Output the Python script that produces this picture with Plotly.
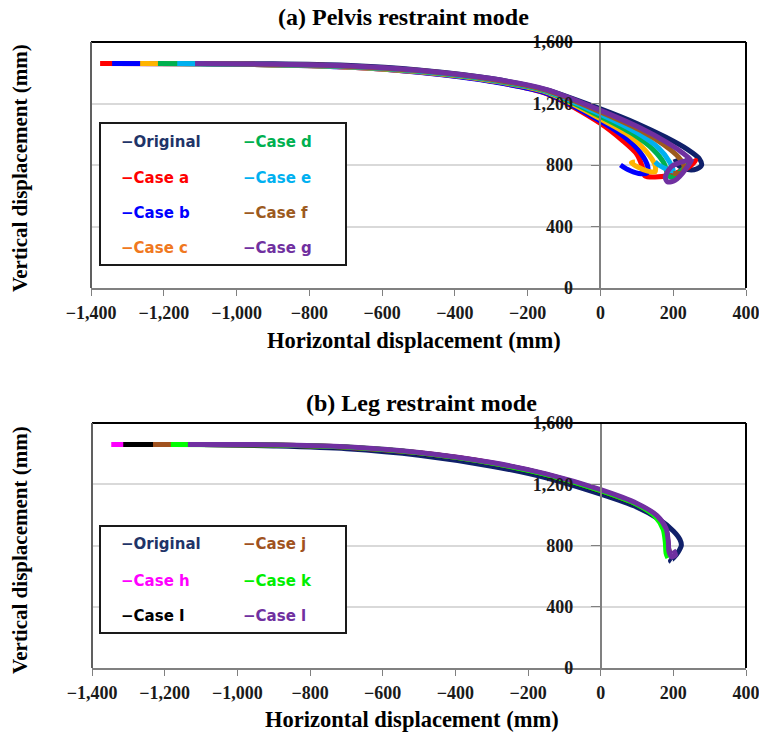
import plotly.graph_objects as go

W, H = 759, 744

# ---------------- data: (a) Pelvis restraint mode ----------------
names_a = ["Original", "Case a", "Case b", "Case c", "Case d", "Case e", "Case f", "Case g"]

orig_a_x = [-1100, -900, -700, -500, -300, -150, 0, 100, 180, 240, 272, 278, 265, 240, 215, 205]
orig_a_y = [1460, 1458, 1448, 1418, 1362, 1290, 1165, 1070, 980, 900, 840, 800, 775, 770, 795, 840]

case_a_x = [-1375, -1100, -900, -700, -500, -300, -150, 0, 60, 100, 115, 122, 150, 200, 240, 262, 250, 225]
case_a_y = [1460, 1458, 1452, 1438, 1405, 1345, 1265, 1070, 960, 870, 790, 730, 722, 740, 790, 830, 800, 760]

case_b_x = [-1342, -1100, -900, -700, -500, -300, -150, 0, 70, 110, 130, 128, 105, 75, 55]
case_b_y = [1460, 1458, 1451, 1437, 1403, 1343, 1268, 1085, 975, 880, 790, 748, 745, 770, 800]

case_c_x = [-1265, -1100, -900, -700, -500, -300, -150, 0, 80, 125, 150, 150, 130, 100, 85, 95]
case_c_y = [1460, 1458, 1451, 1438, 1406, 1348, 1275, 1100, 990, 890, 800, 755, 760, 790, 815, 820]

case_d_x = [-1216, -1100, -900, -700, -500, -300, -150, 0, 90, 145, 175, 185, 195, 220, 245, 235]
case_d_y = [1460, 1458, 1452, 1440, 1409, 1352, 1280, 1115, 1000, 900, 810, 740, 720, 760, 820, 850]

case_e_x = [-1163, -1100, -900, -700, -500, -300, -150, 0, 100, 160, 190, 200, 185, 160, 150]
case_e_y = [1460, 1458, 1453, 1441, 1411, 1355, 1283, 1130, 1010, 910, 820, 760, 770, 800, 820]

case_f_x = [-1090, -900, -700, -500, -300, -150, 0, 110, 175, 215, 230, 225, 200]
case_f_y = [1460, 1454, 1443, 1414, 1358, 1287, 1145, 1025, 930, 850, 790, 750, 745]

case_g_x = [-1114, -900, -700, -500, -300, -150, 0, 110, 180, 225, 248, 235, 205, 185, 178, 195, 240, 255]
case_g_y = [1460, 1456, 1446, 1417, 1362, 1292, 1155, 1040, 950, 880, 830, 775, 700, 690, 720, 790, 830, 820]

series_a = [(orig_a_x, orig_a_y), (case_a_x, case_a_y), (case_b_x, case_b_y), (case_c_x, case_c_y),
            (case_d_x, case_d_y), (case_e_x, case_e_y), (case_f_x, case_f_y), (case_g_x, case_g_y)]

# ---------------- data: (b) Leg restraint mode ----------------
names_b = ["Original", "Case h", "Case I", "Case j", "Case k", "Case l"]

orig_b_x = [-1100, -900, -700, -500, -300, -150, 0, 100, 160, 200, 218, 222, 214, 202, 192, 194]
orig_b_y = [1460, 1450, 1432, 1390, 1318, 1242, 1135, 1050, 972, 895, 840, 800, 760, 722, 700, 695]

case_h_x = [-1347, -1100, -900, -700, -500, -300, -150, 0, 100, 155, 180, 185, 190]
case_h_y = [1460, 1460, 1456, 1442, 1406, 1340, 1265, 1160, 1070, 990, 900, 800, 740]

case_i_x = [-1314, -1100, -900, -700, -500, -300, -150, 0, 100, 155, 180, 186, 190]
case_i_y = [1460, 1460, 1455, 1441, 1404, 1338, 1262, 1157, 1068, 988, 898, 800, 735]

case_j_x = [-1232, -1100, -900, -700, -500, -300, -150, 0, 100, 154, 178, 184, 188]
case_j_y = [1460, 1460, 1456, 1442, 1405, 1339, 1264, 1158, 1069, 989, 899, 800, 738]

case_k_x = [-1183, -900, -700, -500, -300, -150, 0, 100, 150, 172, 178, 180, 185]
case_k_y = [1460, 1457, 1443, 1405, 1338, 1263, 1158, 1068, 990, 905, 820, 750, 718]

case_l_x = [-1136, -900, -700, -500, -300, -150, 0, 100, 155, 180, 186, 188, 196, 206, 200]
case_l_y = [1460, 1458, 1445, 1408, 1342, 1268, 1165, 1075, 995, 910, 830, 760, 725, 740, 770]

series_b = [(orig_b_x, orig_b_y), (case_h_x, case_h_y), (case_i_x, case_i_y), (case_j_x, case_j_y),
            (case_k_x, case_k_y), (case_l_x, case_l_y)]

x_ticks = [-1400, -1200, -1000, -800, -600, -400, -200, 0, 200, 400]
y_ticks = [0, 400, 800, 1200, 1600]

# ---------------- styles ----------------
line_col_a = ["#10206A", "#FF0000", "#0000FF", "#FFB400", "#00B050", "#00B0F0", "#9C5A1E", "#7030A0"]
text_col_a = ["#1F3468", "#FF0000", "#0000FF", "#F07820", "#00B050", "#00B0F0", "#9C5A1E", "#7030A0"]
line_col_b = ["#10206A", "#FF00FF", "#000000", "#A0521E", "#00FF00", "#7030A0"]
text_col_b = ["#1F3468", "#FF00FF", "#000000", "#A0521E", "#00EE00", "#7030A0"]

SERIF = "Liberation Serif"
SANS = "DejaVu Sans"


def px(x):
    return x / W


def py(y):
    return 1 - y / H


# plot box pixel geometry (page pixels)
boxes = {
    "a": dict(l=91, r=746, t=42, b=288),
    "b": dict(l=92, r=746, t=423, b=668),
}

fig = go.Figure()

for i, (xs, ys) in enumerate(series_a):
    fig.add_trace(go.Scatter(x=xs, y=ys, mode="lines", name=names_a[i], xaxis="x", yaxis="y",
                             line=dict(color=line_col_a[i], width=5, shape="spline", smoothing=0.8),
                             showlegend=False))
for i, (xs, ys) in enumerate(series_b):
    fig.add_trace(go.Scatter(x=xs, y=ys, mode="lines", name=names_b[i], xaxis="x2", yaxis="y2",
                             line=dict(color=line_col_b[i], width=5, shape="spline", smoothing=0.8),
                             showlegend=False))

xr = [-1400, 400]
tickfont = dict(family=SERIF, size=18, color="#1a1a1a", weight="bold")


def xaxis_cfg(box, anchor):
    return dict(domain=[px(box["l"]), px(box["r"])], range=xr, anchor=anchor, automargin=False,
                tickvals=x_ticks, tickformat=",d", ticks="outside", ticklen=6, tickcolor="#808080",
                showline=True, linecolor="#808080", linewidth=1.5, showgrid=False, zeroline=False,
                tickfont=tickfont, ticklabelstandoff=2, ticklabeloverflow="allow")


def yaxis_cfg(box):
    x0 = box["l"] + (0 - xr[0]) / (xr[1] - xr[0]) * (box["r"] - box["l"])
    return dict(domain=[py(box["b"]), py(box["t"])], range=[0, 1600], anchor="free", position=px(x0),
                automargin=False,
                tickvals=y_ticks, tickformat=",d", ticks="outside", ticklen=9, tickcolor="#808080",
                showline=True, linecolor="#808080", linewidth=1.5, showgrid=True,
                gridcolor="#d9d9d9", gridwidth=2, zeroline=False, tickfont=tickfont,
                ticklabelstandoff=14, ticklabeloverflow="allow")


shapes = []
annotations = []


def frame(xd, yd):
    shapes.append(dict(type="line", xref=xd, yref=yd, x0=0, x1=1, y0=1, y1=1,
                       line=dict(color="#000000", width=2)))
    shapes.append(dict(type="line", xref=xd, yref=yd, x0=1, x1=1, y0=0, y1=1,
                       line=dict(color="#000000", width=2)))
    shapes.append(dict(type="line", xref=xd, yref=yd, x0=0, x1=0, y0=0, y1=1,
                       line=dict(color="#606060", width=2)))


frame("x domain", "y domain")
frame("x2 domain", "y2 domain")


def legend_box(l, t, r, b, names, cols, rows_y):
    shapes.append(dict(type="rect", xref="paper", yref="paper", x0=px(l), x1=px(r), y0=py(b), y1=py(t),
                       line=dict(color="#1a1a1a", width=2), fillcolor="white", layer="above"))
    nrow = len(rows_y)
    for i, nm in enumerate(names):
        c, rw = divmod(i, nrow)
        xpix = [119, 241][c]
        annotations.append(dict(xref="paper", yref="paper", x=px(xpix), y=py(rows_y[rw]),
                                xanchor="left", yanchor="middle", showarrow=False,
                                text="\u2212" + nm,
                                font=dict(family=SANS, size=15, color=cols[i], weight="bold")))


legend_box(100, 123, 346, 265, names_a, text_col_a, [142, 178, 213, 248])
legend_box(100, 526, 346, 633, names_b, text_col_b, [544, 581, 616])


def label(text, x, y, size, angle=0):
    annotations.append(dict(xref="paper", yref="paper", x=px(x), y=py(y), xanchor="center",
                            yanchor="middle", showarrow=False, text="<b>" + text + "</b>",
                            textangle=angle, font=dict(family=SERIF, size=size, color="#000000")))


label("(a) Pelvis restraint mode", 404, 17, 24)
label("(b) Leg restraint mode", 421, 403, 24)
label("Horizontal displacement (mm)", 414, 341, 22.5)
label("Horizontal displacement (mm)", 412, 719, 22.5)
label("Vertical displacement (mm)", 20, 168, 21, angle=-90)
label("Vertical displacement (mm)", 20, 550, 21, angle=-90)

fig.update_layout(
    width=W, height=H, margin=dict(l=0, r=0, t=0, b=0, autoexpand=False),
    paper_bgcolor="white", plot_bgcolor="white", showlegend=False,
    xaxis=xaxis_cfg(boxes["a"], "y"), yaxis=yaxis_cfg(boxes["a"]),
    xaxis2=xaxis_cfg(boxes["b"], "y2"), yaxis2=yaxis_cfg(boxes["b"]),
    shapes=shapes, annotations=annotations,
)

fig.write_html("out.html", config={"displayModeBar": False},
               post_script="document.body.style.margin='0';document.body.style.overflow='hidden';")
